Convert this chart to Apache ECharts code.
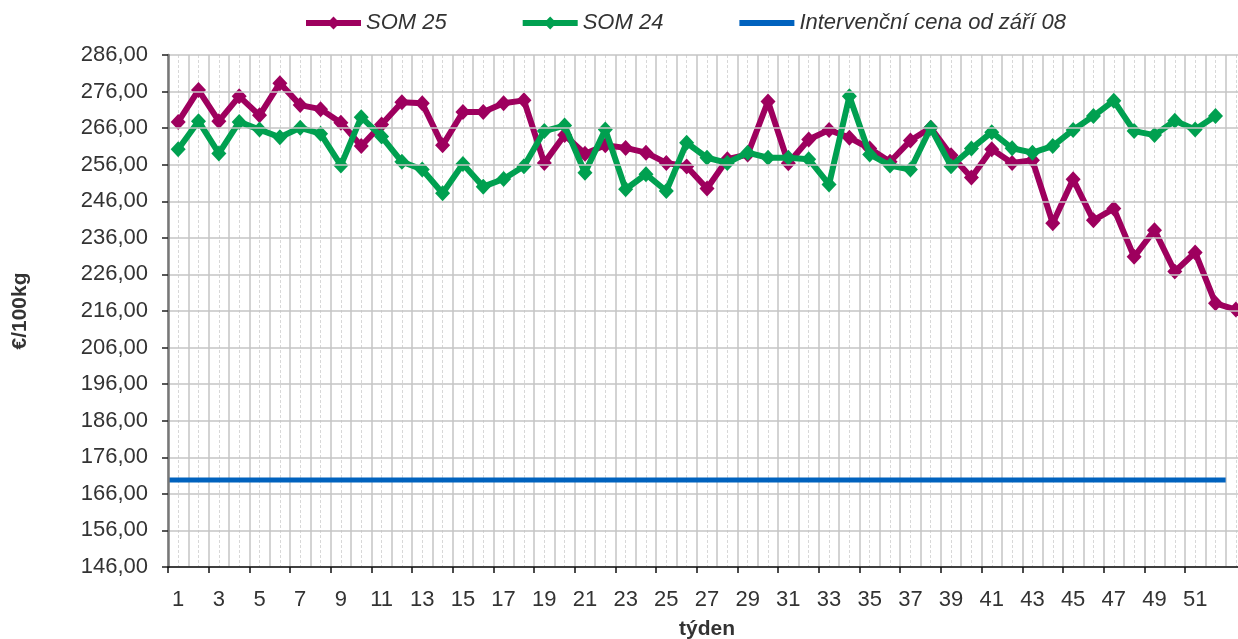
<!DOCTYPE html>
<html>
<head>
<meta charset="utf-8">
<script src="https://cdn.jsdelivr.net/npm/echarts@6/dist/echarts.min.js"></script>
<style>
  html, body { margin: 0; padding: 0; background: #fff; }
  #chart { width: 1238px; height: 639px; }
</style>
</head>
<body>
<div id="chart"></div>
<script>
// týdny (osa x)
var weeks = ['1','2','3','4','5','6','7','8','9','10','11','12','13','14','15','16','17','18','19','20',
  '21','22','23','24','25','26','27','28','29','30','31','32','33','34','35','36','37','38','39','40',
  '41','42','43','44','45','46','47','48','49','50','51','52','53'];

// ceny €/100kg
var som25 = [267.7, 276.4, 267.9, 274.7, 269.5, 278.3, 272.3, 271.2, 267.5, 261.1,
  267.0, 273.1, 272.8, 261.3, 270.4, 270.4, 272.8, 273.6, 256.5, 264.1,
  259.0, 261.3, 260.6, 259.3, 256.5, 255.5, 249.5, 257.5, 258.8, 273.3,
  256.4, 262.9, 265.5, 263.4, 260.4, 256.8, 262.6, 266.1, 258.6, 252.5,
  260.2, 256.5, 257.2, 240.0, 252.0, 240.8, 244.0, 230.8, 238.1, 226.8,
  232.0, 218.1, 216.4];

var som24 = [260.2, 267.9, 259.1, 267.7, 265.6, 263.5, 266.1, 264.5, 255.8, 269.0,
  263.7, 256.8, 254.7, 248.2, 256.2, 250.0, 252.1, 255.6, 265.2, 266.7,
  253.8, 265.6, 249.3, 253.4, 248.8, 262.0, 257.9, 256.5, 259.3, 257.9,
  257.9, 257.5, 250.6, 274.7, 258.8, 255.8, 254.7, 266.1, 255.6, 260.4,
  264.9, 260.5, 259.3, 261.1, 265.5, 269.3, 273.5, 265.2, 264.1, 268.0,
  265.6, 269.3];

// intervenční cena - od začátku osy do konce 52. týdne
var interventionSpan = [0, 52];
var interventionPrice = 169.8;

var yMin = 146, yMax = 286, yStep = 10;

var font = 'Liberation Sans, Arial, sans-serif';

var chart = echarts.init(document.getElementById('chart'));
chart.setOption({
  animation: false,
  grid: {
    left: 168,
    right: -8,
    top: 55,
    bottom: 72,
    outerBoundsMode: 'none',
    containLabel: false
  },
  legend: {
    top: 7,
    left: 298,
    itemWidth: 55,
    itemHeight: 16,
    itemGap: 73,
    textStyle: {
      fontFamily: font,
      fontStyle: 'italic',
      fontSize: 22,
      color: '#333'
    },
    lineStyle: { width: 6 },
    data: [
      'SOM 25',
      'SOM 24',
      { name: 'Intervenční cena od září 08', itemStyle: { opacity: 0 } }
    ]
  },
  xAxis: [
    {
      type: 'category',
      data: weeks,
      boundaryGap: true,
      name: 'týden',
      nameLocation: 'middle',
      nameGap: 52,
      nameTextStyle: { fontFamily: font, fontSize: 21, fontWeight: 'bold', color: '#333' },
      axisLine: { lineStyle: { color: '#111', width: 1.5 } },
      axisTick: { show: true, length: 6, lineStyle: { color: '#111', width: 1.5 } },
      axisLabel: {
        interval: function (i) { return i % 2 === 0 && i < 52; },
        margin: 22,
        fontFamily: font,
        fontSize: 22,
        color: '#333'
      },
      splitLine: { show: false },
      z: 5
    },
    {
      // pomocná osa pro mřížku a intervenční linii
      type: 'value',
      min: 0,
      max: weeks.length,
      interval: 1,
      show: true,
      axisLine: { show: false },
      axisTick: { show: false },
      axisLabel: { show: false },
      splitLine: { show: true, lineStyle: { color: '#c4c4c4', width: 1.5 } },
      minorTick: { show: false, splitNumber: 2 },
      minorSplitLine: { show: true, lineStyle: { color: '#d8d8d8', width: 1, type: [3, 2] } }
    }
  ],
  yAxis: {
    type: 'value',
    min: yMin,
    max: yMax,
    interval: yStep,
    name: '€/100kg',
    nameLocation: 'middle',
    nameGap: 137,
    nameRotate: 90,
    nameTextStyle: { fontFamily: font, fontSize: 21, fontWeight: 'bold', color: '#333' },
    axisLine: { show: true, lineStyle: { color: '#777', width: 2.5 } },
    axisTick: { show: true, length: 6, lineStyle: { color: '#222', width: 1.5 } },
    axisLabel: {
      margin: 20,
      fontFamily: font,
      fontSize: 22,
      color: '#333',
      formatter: function (v) { return v.toFixed(2).replace('.', ','); }
    },
    splitLine: { show: true, lineStyle: { color: '#c4c4c4', width: 1.5 } },
    z: 5
  },
  series: [
    {
      name: 'SOM 25',
      type: 'line',
      data: som25,
      symbol: 'diamond',
      symbolSize: [15, 16],
      showAllSymbol: true,
      itemStyle: { color: '#9e005e' },
      lineStyle: { color: '#9e005e', width: 6 },
      z: 3
    },
    {
      name: 'SOM 24',
      type: 'line',
      data: som24,
      symbol: 'diamond',
      symbolSize: [15, 16],
      showAllSymbol: true,
      itemStyle: { color: '#00a050' },
      lineStyle: { color: '#00a050', width: 6 },
      z: 4
    },
    {
      name: 'Intervenční cena od září 08',
      type: 'line',
      xAxisIndex: 1,
      data: interventionSpan.map(function (x) { return [x, interventionPrice]; }),
      symbol: 'none',
      itemStyle: { color: '#0062be' },
      lineStyle: { color: '#0062be', width: 5 },
      z: 2
    }
  ]
});
</script>
</body>
</html>
